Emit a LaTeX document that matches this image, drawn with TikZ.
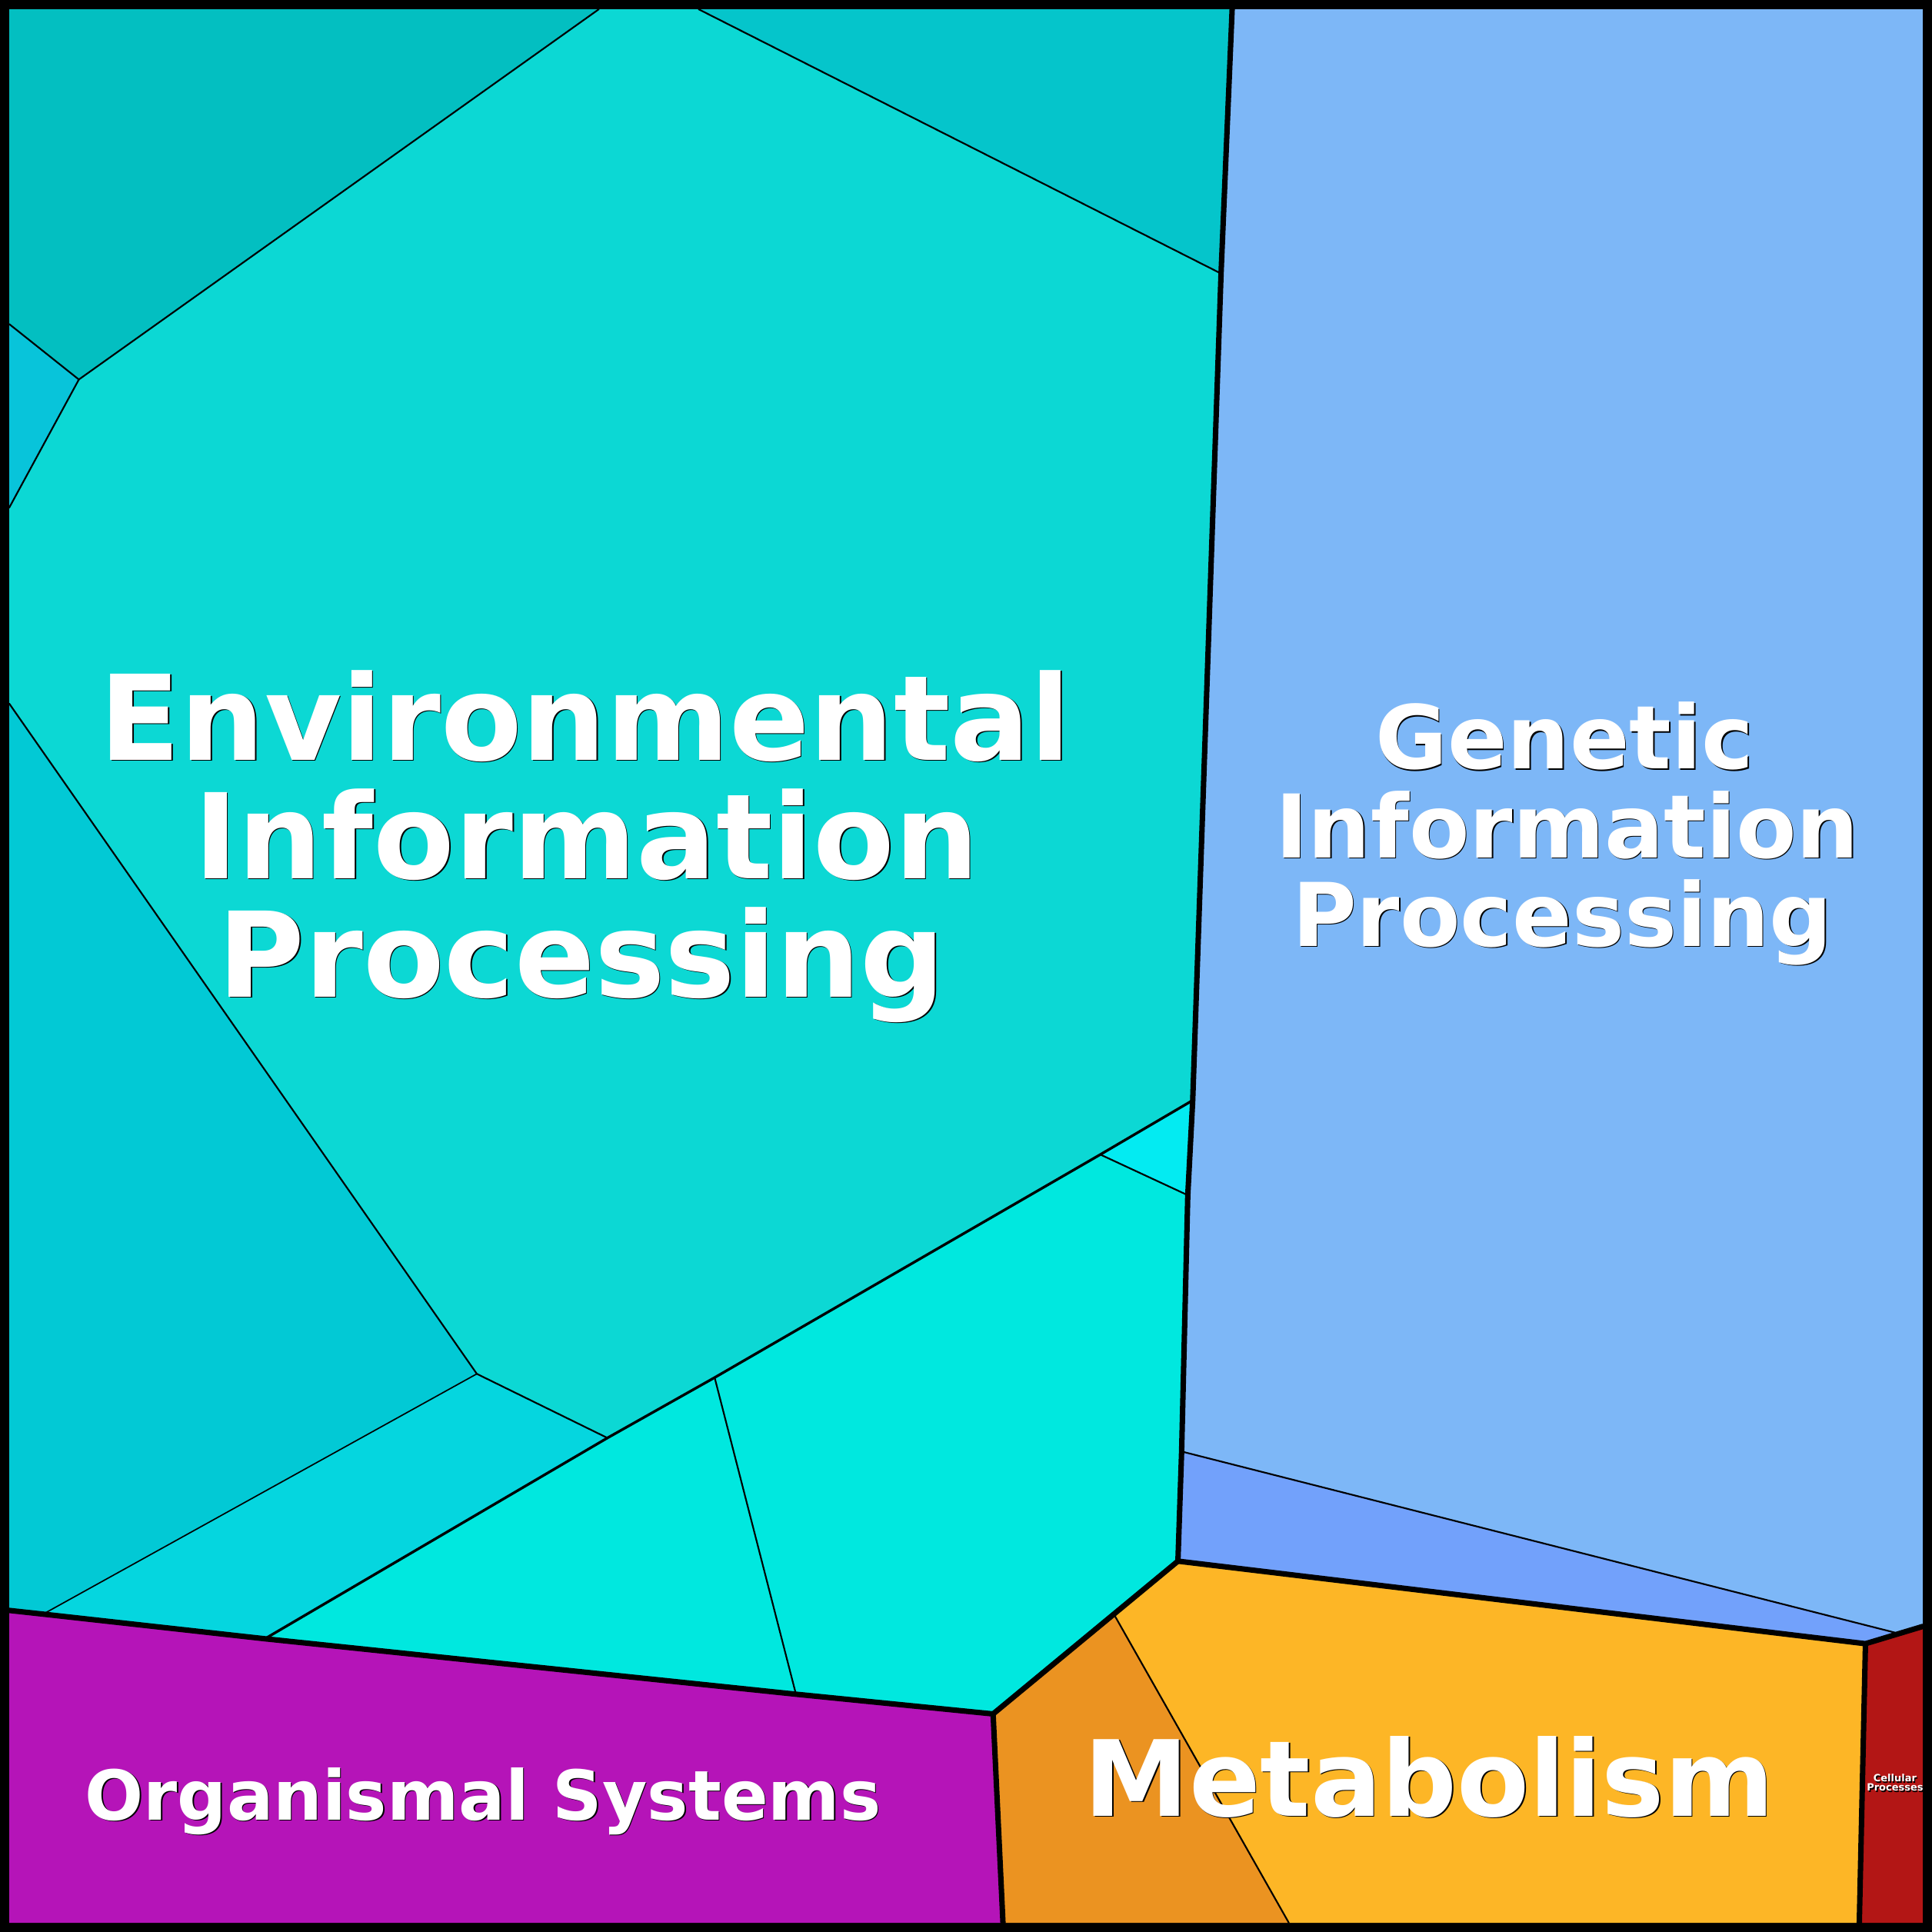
\documentclass[tikz,border=0pt]{standalone}
\usepackage{fontspec}
\setmainfont{DejaVu Sans}
\definecolor{cTL}{HTML}{03BFC1}
\definecolor{cTR}{HTML}{05C5CB}
\definecolor{cEnv}{HTML}{0CD8D4}
\definecolor{cSL}{HTML}{08C4DA}
\definecolor{cLB}{HTML}{02C9D5}
\definecolor{cLow}{HTML}{05D6DF}
\definecolor{cTri}{HTML}{03EBF2}
\definecolor{cCy}{HTML}{00E8DF}
\definecolor{cGen}{HTML}{7DB7F7}
\definecolor{cGenB}{HTML}{72A1FB}
\definecolor{cMetR}{HTML}{FDB626}
\definecolor{cMetL}{HTML}{EB9321}
\definecolor{cCell}{HTML}{B31615}
\definecolor{cOrg}{HTML}{B514B8}
\tikzset{
  thickb/.style={line width=1.25pt,line join=round,line cap=round},
  midb/.style={line width=0.6pt,line join=round,line cap=round},
  thinb/.style={line width=0.38pt,line join=round,line cap=round},
  thinnerb/.style={line width=0.3pt,line join=round,line cap=round},
  lbl/.style={text=white,inner sep=0pt,anchor=base,font=\bfseries},
  lblsh/.style={text=black,inner sep=0pt,anchor=base,font=\bfseries}
}
\newcommand\kegglabel[5]{%
  \node[lblsh] at (#2+0.9,#3+0.9) {\fontsize{#4}{#4}\selectfont\bfseries #5};
  \node[lbl] (#1) at (#2,#3) {\fontsize{#4}{#4}\selectfont\bfseries #5};}
\begin{document}
\begin{tikzpicture}[x=0.01cm,y=-0.01cm]
\useasboundingbox (0,0) rectangle (1568,1568);
\fill[black] (0,0) rectangle (1568,1568);
% frame corners
\coordinate (TL) at (7.5,7.5);
\coordinate (TR) at (1560.5,7.5);
\coordinate (BL) at (7.5,1560.5);
\coordinate (BR) at (1560.5,1560.5);
% vertices
\coordinate (A1) at (486,7.5);
\coordinate (A2) at (567,7.5);
\coordinate (A3) at (1000,7.5);
\coordinate (G1) at (991,222);
\coordinate (G2) at (968,893);
\coordinate (G3) at (964,970);
\coordinate (G4) at (959,1178);
\coordinate (G5) at (956,1267);
\coordinate (P1) at (64,308);
\coordinate (L1) at (7.5,263);
\coordinate (L2) at (7.5,412);
\coordinate (L3) at (7.5,571);
\coordinate (L4) at (7.5,1307);
\coordinate (V1) at (387,1115);
\coordinate (V2) at (493,1167);
\coordinate (V3) at (580,1118);
\coordinate (V4) at (893,937);
\coordinate (B1) at (35,1310);
\coordinate (B2) at (215,1330);
\coordinate (B3) at (646,1375);
\coordinate (B4) at (806,1391);
\coordinate (M1) at (904,1310);
\coordinate (M2) at (1046,1560.5);
\coordinate (M3) at (814,1560.5);
\coordinate (C1) at (1514,1334);
\coordinate (C2) at (1560.5,1320);
\coordinate (C3) at (1509,1560.5);
\coordinate (N2) at (1538,1325);
% fills
\fill[cTL] (TL) -- (A1) -- (P1) -- (L1) -- cycle;
\fill[cTR] (A2) -- (A3) -- (G1) -- cycle;
\fill[cSL] (L1) -- (P1) -- (L2) -- cycle;
\fill[cEnv] (A1) -- (A2) -- (G1) -- (G2) -- (V4) -- (V3) -- (V2) -- (V1) -- (L3) -- (L2) -- (P1) -- cycle;
\fill[cLB] (L3) -- (V1) -- (B1) -- (L4) -- cycle;
\fill[cLow] (B1) -- (V1) -- (V2) -- (B2) -- cycle;
\fill[cTri] (G2) -- (V4) -- (G3) -- cycle;
\fill[cCy] (V4) -- (G3) -- (G5) -- (B4) -- (B3) -- (V3) -- cycle;
\fill[cCy] (V3) -- (B3) -- (B2) -- (V2) -- cycle;
\fill[cGen] (A3) -- (TR) -- (C2) -- (N2) -- (G4) -- (G3) -- (G2) -- (G1) -- cycle;
\fill[cGenB] (G4) -- (N2) -- (C2) -- (C1) -- (G5) -- cycle;
\fill[cMetR] (G5) -- (C1) -- (C3) -- (M2) -- (M1) -- cycle;
\fill[cMetL] (G5) -- (M1) -- (M2) -- (M3) -- (B4) -- cycle;
\fill[cCell] (C1) -- (C2) -- (BR) -- (C3) -- cycle;
\fill[cOrg] (L4) -- (B4) -- (M3) -- (BL) -- cycle;
% thin lines
\draw[thinb] (A1) -- (P1) -- (L1);
\draw[thinb] (P1) -- (L2);
\draw[thinb] (A2) -- (G1);
\draw[thinb] (L3) -- (V1) -- (V2);
\draw[thinnerb] (V1) -- (B1);
\draw[thinb] (V4) -- (G3);
\draw[thinb] (V3) -- (B3);
\draw[thinb] (M1) -- (M2);
\draw[thinb] (G4) -- (N2);
% medium line
\draw[midb] (G2) -- (V4) -- (V3) -- (V2) -- (B2);
% thick lines
\draw[thickb] (A3) -- (G1) -- (G2) -- (G3) -- (G4) -- (G5) -- (C1) -- (C2);
\draw[thickb] (C1) -- (C3);
\draw[thickb] (G5) -- (M1) -- (B4) -- (M3);
\draw[thickb] (L4) -- (B1) -- (B2) -- (B3) -- (B4);
% labels
\kegglabel{env1}{475}{617}{27.3pt}{Environmental}
\kegglabel{env2}{476}{713}{27.3pt}{Information}
\kegglabel{env3}{472}{809}{27.3pt}{Processing}
\kegglabel{gen1}{1270}{624}{20.3pt}{Genetic}
\kegglabel{gen2}{1272}{696}{20.3pt}{Information}
\kegglabel{gen3}{1268}{768}{20.3pt}{Processing}
\kegglabel{met}{1160}{1474}{24.3pt}{Metabolism}
\kegglabel{org}{392}{1477}{15.9pt}{Organismal Systems}
\kegglabel{cel1}{1538}{1446}{2.3pt}{Cellular}
\kegglabel{cel2}{1538}{1453.5}{2.3pt}{Processes}
\end{tikzpicture}
\end{document}
